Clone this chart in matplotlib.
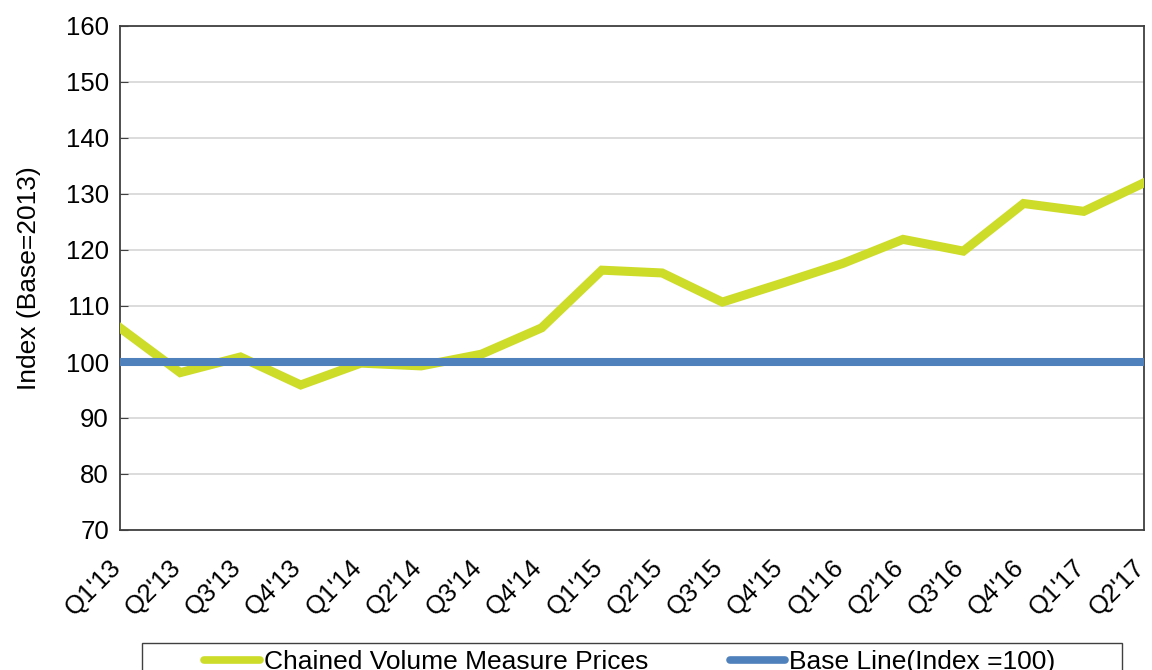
import numpy as np
import matplotlib.pyplot as plt
from matplotlib.patches import Rectangle
from matplotlib.transforms import ScaledTranslation

plt.rcParams['font.family'] = ['Liberation Sans', 'DejaVu Sans']

quarters = ["Q1'13", "Q2'13", "Q3'13", "Q4'13", "Q1'14", "Q2'14", "Q3'14", "Q4'14",
            "Q1'15", "Q2'15", "Q3'15", "Q4'15", "Q1'16", "Q2'16", "Q3'16", "Q4'16",
            "Q1'17", "Q2'17"]
cvm_prices = [106.1, 98.1, 100.9, 95.9, 99.8, 99.3, 101.4, 106.1,
              116.4, 115.9, 110.7, 114.1, 117.6, 121.9, 119.8, 128.3,
              126.9, 132.0]
base_line = [100] * len(quarters)

x = np.arange(len(quarters))
W, H = 1152, 670

fig = plt.figure(figsize=(W / 100, H / 100), dpi=100)
ax = fig.add_axes([120 / W, 1 - 530 / H, (1144 - 120) / W, (530 - 26) / H])

ax.plot(x, cvm_prices, color='#cddc29', lw=6.5, solid_joinstyle='miter',
        label='Chained Volume Measure Prices', zorder=3)
ax.plot(x, base_line, color='#4f81bd', lw=5.8, label='Base Line(Index =100)', zorder=4)

ax.set_xlim(0, len(quarters) - 1)
ax.set_ylim(70, 160)
ax.set_yticks(np.arange(70, 161, 10))

# labels on every quarter, ticks and gridlines on every second one
ax.set_xticks(x)
ax.set_xticklabels(quarters, rotation=45, ha='right', va='center', rotation_mode='anchor')
ax.tick_params(axis='x', which='major', length=0, pad=24, labelsize=18.5)
shift = ScaledTranslation(-3 / 100, 0, fig.dpi_scale_trans)
for lab in ax.get_xticklabels():
    lab.set_transform(lab.get_transform() + shift)
ax.set_xticks(x[::2], minor=True)
ax.tick_params(axis='x', which='minor', direction='in', length=7, color='#404040')
ax.tick_params(axis='y', direction='in', length=6, color='#404040', labelsize=18.5, pad=8)

ax.grid(axis='y', color='#d9d9d9', lw=1.3)
ax.grid(axis='x', which='minor', color='#c8c8c8', lw=1.1)
ax.set_axisbelow(True)

for s in ax.spines.values():
    s.set_color('#404040')
    s.set_linewidth(1.3)

ax.set_ylabel('Index (Base=2013)', fontsize=19, labelpad=18)

# legend box runs off the bottom edge like in the original
fig.patches.append(Rectangle((142 / W, -0.05), (1122 - 142) / W, 0.05 + 1 - 643 / H,
                             transform=fig.transFigure, fill=False,
                             edgecolor='#404040', lw=1.0))
leg = fig.legend(loc='center', ncol=2, bbox_to_anchor=(630 / W, 1 - 662 / H),
                 fontsize=19, frameon=False, handlelength=2.1, handletextpad=0.15,
                 columnspacing=3.1, borderpad=0)
for ln in leg.get_lines():
    ln.set_linewidth(5.5)
    ln.set_solid_capstyle('round')

fig.savefig('out.png', dpi=100)
